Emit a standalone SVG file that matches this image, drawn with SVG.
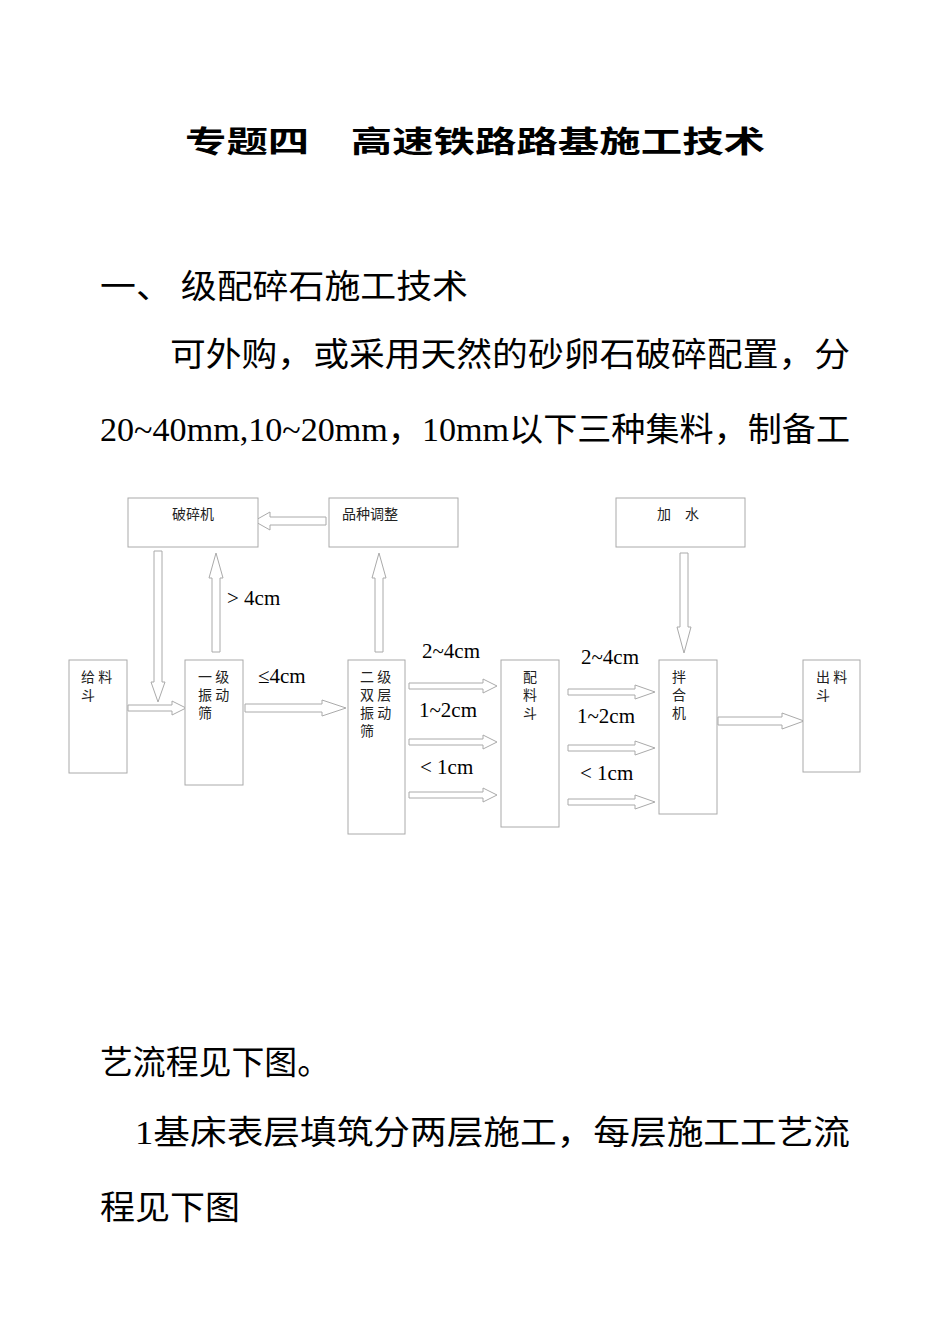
<svg xmlns="http://www.w3.org/2000/svg" width="950" height="1344" viewBox="0 0 950 1344">
<style>
.t{font-family:"Liberation Serif","Noto Sans CJK SC",serif;fill:#000}
.b{fill:#fff;stroke:#aaa;stroke-width:1}
.a{fill:#fff;stroke:#aaa;stroke-width:1}
.s{font-family:"Noto Sans CJK SC",serif;font-size:14px;fill:#222}
.l{font-family:"Liberation Serif","Noto Sans CJK SC",serif;font-size:21px;fill:#000}
</style>
<rect width="950" height="1344" fill="#fff"/>
<text class="t" x="185" y="152" font-size="30" font-weight="bold" textLength="580" lengthAdjust="spacingAndGlyphs">专题四　高速铁路路基施工技术</text>
<text class="t" x="100" y="298" font-size="33" textLength="368" lengthAdjust="spacingAndGlyphs">一、  级配碎石施工技术</text>
<text class="t" x="170" y="366" font-size="33" textLength="680" lengthAdjust="spacingAndGlyphs">可外购，或采用天然的砂卵石破碎配置，分</text>
<text class="t" x="100" y="441" font-size="33" textLength="750" lengthAdjust="spacingAndGlyphs">20~40mm,10~20mm，10mm以下三种集料，制备工</text>
<text class="t" x="100" y="1074" font-size="33" textLength="230" lengthAdjust="spacingAndGlyphs">艺流程见下图。</text>
<text class="t" x="135" y="1144" font-size="33" textLength="715" lengthAdjust="spacingAndGlyphs">1基床表层填筑分两层施工，每层施工工艺流</text>
<text class="t" x="100" y="1219" font-size="33" textLength="140" lengthAdjust="spacingAndGlyphs">程见下图</text>

<g id="connectors">
<polygon class="a" points="326,517 270,517 270,512 254,521 270,530 270,525 326,525"/>
<polygon class="a" points="154,551 162,551 162,682 165,682 158,702 151,682 154,682"/>
<polygon class="a" points="128,705 172,705 172,701 186,708 172,715 172,711 128,711"/>
<polygon class="a" points="212,652 220,652 220,578 223,578 216,553 209,578 212,578"/>
<polygon class="a" points="245,704 322,704 322,700 346,708 322,716 322,712 245,712"/>
<polygon class="a" points="375,652 383,652 383,578 386,578 379,553 372,578 375,578"/>
<polygon class="a" points="409,683 483,683 483,679 497,686 483,693 483,689 409,689"/>
<polygon class="a" points="409,739 483,739 483,735 497,742 483,749 483,745 409,745"/>
<polygon class="a" points="409,792 483,792 483,788 497,795 483,802 483,798 409,798"/>
<polygon class="a" points="568,689 635,689 635,685 655,692 635,699 635,695 568,695"/>
<polygon class="a" points="568,745 635,745 635,741 655,748 635,755 635,751 568,751"/>
<polygon class="a" points="568,799 635,799 635,795 655,802 635,809 635,805 568,805"/>
<polygon class="a" points="680,553 688,553 688,627 691,627 684,653 677,627 680,627"/>
<polygon class="a" points="718,717 782,717 782,713 804,721 782,729 782,725 718,725"/>
</g>
<text class="l" x="227" y="605">&gt; 4cm</text>
<text class="l" x="258" y="683">≤4cm</text>
<text class="l" x="422" y="658">2~4cm</text>
<text class="l" x="419" y="717">1~2cm</text>
<text class="l" x="420" y="774">&lt; 1cm</text>
<text class="l" x="581" y="664">2~4cm</text>
<text class="l" x="577" y="723">1~2cm</text>
<text class="l" x="580" y="780">&lt; 1cm</text>

<g id="n-posuiji"><rect class="b" x="128" y="498" width="130" height="49"/><text class="s" x="193" y="519" text-anchor="middle">破碎机</text></g>
<g id="n-pinzhong"><rect class="b" x="329" y="498" width="129" height="49"/><text class="s" x="342" y="519">品种调整</text></g>
<g id="n-jiashui"><rect class="b" x="616" y="498" width="129" height="49"/><text class="s" x="657" y="519">加　水</text></g>
<g id="n-geiliao"><rect class="b" x="69" y="660" width="58" height="113"/><text class="s" x="81" y="682">给 料</text><text class="s" x="81" y="700">斗</text></g>
<g id="n-yiji"><rect class="b" x="185" y="660" width="58" height="125"/><text class="s" x="198" y="682">一 级</text><text class="s" x="198" y="700">振 动</text><text class="s" x="198" y="718">筛</text></g>
<g id="n-erji"><rect class="b" x="348" y="660" width="57" height="174"/><text class="s" x="360" y="682">二 级</text><text class="s" x="360" y="700">双 层</text><text class="s" x="360" y="718">振 动</text><text class="s" x="360" y="736">筛</text></g>
<g id="n-peiliao"><rect class="b" x="501" y="660" width="58" height="167"/><text class="s" x="523" y="682">配</text><text class="s" x="523" y="700">料</text><text class="s" x="523" y="718">斗</text></g>
<g id="n-banhe"><rect class="b" x="659" y="660" width="58" height="154"/><text class="s" x="672" y="682">拌</text><text class="s" x="672" y="700">合</text><text class="s" x="672" y="718">机</text></g>
<g id="n-chuliao"><rect class="b" x="803" y="660" width="57" height="112"/><text class="s" x="816" y="682">出 料</text><text class="s" x="816" y="700">斗</text></g>
</svg>
